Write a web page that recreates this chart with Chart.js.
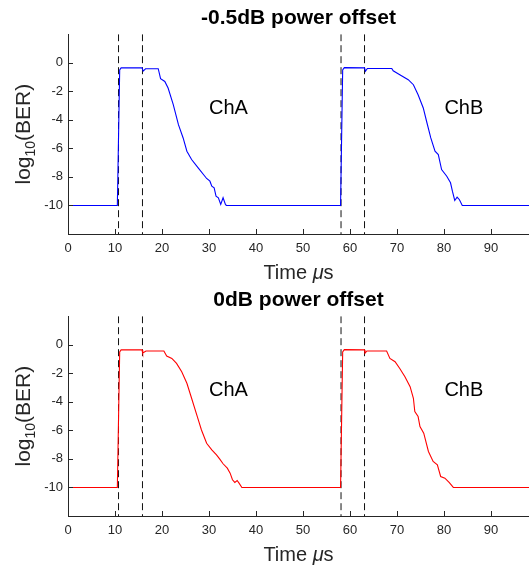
<!DOCTYPE html>
<html>
<head>
<meta charset="utf-8">
<script src="https://cdn.jsdelivr.net/npm/chart.js@4.4.1/dist/chart.umd.min.js"></script>
<style>
  html, body { margin: 0; padding: 0; background: #fff; }
  #wrap { position: relative; width: 529px; height: 571px; overflow: hidden; }
  #wrap canvas { position: absolute; left: 0; }
</style>
</head>
<body>
<div id="wrap">
  <canvas id="chartTop" width="529" height="289" style="top:0"></canvas>
  <canvas id="chartBottom" width="529" height="289" style="top:282px"></canvas>
</div>
<script>
// -0.5 dB power offset (blue), ChA then ChB
const timeNeg05 = [0, 10.5, 11.0, 11.3, 15.75, 16.0, 16.5, 19.2, 19.7, 20.6, 21.3, 22.4, 23.5, 24.5, 25.3, 26.3, 27.7,
  29.5, 30.2, 30.6, 31.1, 31.5, 32.0, 32.5, 33.0, 33.5, 33.7,
  58.0, 58.45, 58.8, 63.1, 63.3, 63.7, 68.9, 69.2, 70.6, 72.4, 73.5, 74.5, 75.6, 76.3, 77.2, 78.1, 78.8, 79.5,
  80.6, 81.4, 81.8, 82.3, 82.8, 83.3, 83.9, 100];
const berNeg05 = [-10, -10, -0.5, -0.36, -0.36, -0.58, -0.42, -0.42, -1.12, -1.31, -1.77, -2.94, -4.34, -5.27, -6.2, -6.78, -7.37,
  -8.11, -8.3, -8.65, -8.76, -9.35, -9.46, -9.93, -9.46, -9.93, -10,
  -10, -0.5, -0.34, -0.36, -0.6, -0.4, -0.4, -0.56, -0.84, -1.19, -1.54, -2.24, -3.17, -4.1, -5.27, -6.2, -6.43, -7.48,
  -7.95, -8.41, -9.0, -9.65, -9.42, -9.6, -10, -10];

// 0 dB power offset (red)
const time0dB = [0, 10.5, 11.0, 11.3, 15.75, 15.9, 16.6, 20.4, 21.0, 22.1, 23.1, 24.2, 25.3, 26.3, 27.4, 28.4, 29.5,
  30.6, 31.6, 32.3, 33.0, 33.9, 34.5, 35.0, 35.5, 36.0, 36.4, 37.0,
  58.0, 58.45, 58.8, 63.1, 63.2, 63.6, 67.8, 68.5, 69.6, 70.6, 71.7, 72.8, 73.5, 73.8, 74.5, 74.9, 75.7,
  76.7, 77.7, 78.6, 79.3, 80.2, 81.1, 82.0, 100];
const ber0dB = [-10, -10, -0.5, -0.36, -0.36, -0.58, -0.44, -0.44, -0.79, -0.96, -1.31, -1.89, -2.7, -3.75, -4.92, -5.97, -6.9,
  -7.37, -7.72, -8.02, -8.34, -8.65, -9.0, -9.46, -9.65, -9.51, -9.7, -10,
  -10, -0.5, -0.34, -0.36, -0.6, -0.44, -0.44, -0.96, -1.19, -1.66, -2.24, -2.94, -3.75, -4.69, -5.03, -5.73, -6.2,
  -7.48, -8.18, -8.41, -9.23, -9.35, -9.65, -10, -10];

// vertical dashed markers (frame boundaries)
const markerTimes = [10.75, 15.85, 58.1, 63.1];

const xTicks = [0, 10, 20, 30, 40, 50, 60, 70, 80, 90];
const yTicks = [-10, -8, -6, -4, -2, 0];
const xRange = [0, 98.1];
const yRange = [-12, 2];

const chanNames = ['ChA', 'ChB'];
const chanX = [30.0, 80.1];
const chanY = -3.2;

const FONT = "'Liberation Sans', Arial, Helvetica, sans-serif";
const AXIS_COLOR = '#262626';

Chart.defaults.font.family = FONT;
Chart.defaults.color = AXIS_COLOR;

// inward tick marks, channel labels and the two axis titles (subscript / italic mu)
const decorations = {
  id: 'decorations',
  afterDraw(chart) {
    const { ctx, chartArea, scales: { x, y } } = chart;
    ctx.save();

    ctx.strokeStyle = AXIS_COLOR;
    ctx.lineWidth = 1;
    ctx.beginPath();
    xTicks.forEach(v => {
      if (v === 0) return;
      const px = Math.round(x.getPixelForValue(v)) + 0.5;
      ctx.moveTo(px, chartArea.bottom);
      ctx.lineTo(px, chartArea.bottom - 5);
    });
    yTicks.forEach(v => {
      const py = Math.round(y.getPixelForValue(v)) + 0.5;
      ctx.moveTo(chartArea.left, py);
      ctx.lineTo(chartArea.left + 5, py);
    });
    ctx.stroke();

    ctx.fillStyle = '#000';
    ctx.font = '20px ' + FONT;
    ctx.textAlign = 'left';
    ctx.textBaseline = 'middle';
    chanNames.forEach((name, i) => {
      ctx.fillText(name, x.getPixelForValue(chanX[i]), y.getPixelForValue(chanY));
    });

    // x title: Time (italic mu) s
    ctx.fillStyle = AXIS_COLOR;
    ctx.textBaseline = 'alphabetic';
    const parts = [['Time ', '20px '], ['μ', 'italic 20px '], ['s', '20px ']];
    let total = 0;
    parts.forEach(p => { ctx.font = p[1] + FONT; total += ctx.measureText(p[0]).width; });
    let xPos = (chartArea.left + chartArea.right) / 2 - total / 2;
    parts.forEach(p => {
      ctx.font = p[1] + FONT;
      ctx.fillText(p[0], xPos, chartArea.bottom + 45);
      xPos += ctx.measureText(p[0]).width;
    });

    // y title: log_10(BER)
    const big = '21px ' + FONT;
    const small = '14px ' + FONT;
    ctx.font = big;
    const w1 = ctx.measureText('log').width;
    const w3 = ctx.measureText('(BER)').width;
    ctx.font = small;
    const w2 = ctx.measureText('10').width;
    ctx.translate(30, (chartArea.top + chartArea.bottom) / 2);
    ctx.rotate(-Math.PI / 2);
    let pos = -(w1 + w2 + w3) / 2;
    ctx.font = big;
    ctx.fillText('log', pos, 0);
    pos += w1;
    ctx.font = small;
    ctx.fillText('10', pos, 5);
    pos += w2;
    ctx.font = big;
    ctx.fillText('(BER)', pos, 0);

    ctx.restore();
  }
};

function makeChart(canvasId, title, times, bers, color) {
  const curve = times.map((t, i) => ({ x: t, y: bers[i] }));
  const markers = markerTimes.map(t => ({
    data: [{ x: t, y: yRange[1] }, { x: t, y: yRange[0] }],
    borderColor: '#111',
    borderWidth: 1,
    borderDash: [7, 4],
    pointRadius: 0
  }));

  return new Chart(document.getElementById(canvasId), {
    type: 'line',
    data: {
      datasets: [{
        data: curve,
        borderColor: color,
        borderWidth: 1.1,
        pointRadius: 0,
        tension: 0
      }, ...markers]
    },
    options: {
      responsive: false,
      animation: false,
      devicePixelRatio: 1,
      layout: { padding: 0 },
      plugins: {
        legend: { display: false },
        tooltip: { enabled: false },
        title: {
          display: true,
          text: title,
          color: '#000',
          fullSize: false,
          font: { size: 21, weight: 'bold' },
          padding: { top: 6, bottom: 3 }
        }
      },
      scales: {
        x: {
          type: 'linear',
          min: xRange[0],
          max: xRange[1],
          afterBuildTicks: s => { s.ticks = xTicks.map(v => ({ value: v })); },
          afterFit: s => { s.height = 55; },
          grid: { display: true, drawOnChartArea: false, drawTicks: false },
          border: { display: true, color: AXIS_COLOR, width: 1 },
          ticks: { padding: 7, font: { size: 13 }, color: AXIS_COLOR, maxRotation: 0 }
        },
        y: {
          min: yRange[0],
          max: yRange[1],
          afterBuildTicks: s => { s.ticks = yTicks.map(v => ({ value: v })); },
          afterFit: s => { s.width = 68; },
          grid: { display: true, drawOnChartArea: false, drawTicks: false },
          border: { display: true, color: AXIS_COLOR, width: 1 },
          ticks: { padding: 5, font: { size: 13 }, color: AXIS_COLOR }
        }
      }
    },
    plugins: [decorations]
  });
}

makeChart('chartTop', '-0.5dB power offset', timeNeg05, berNeg05, '#0000ff');
makeChart('chartBottom', '0dB power offset', time0dB, ber0dB, '#ff0000');
</script>
</body>
</html>
